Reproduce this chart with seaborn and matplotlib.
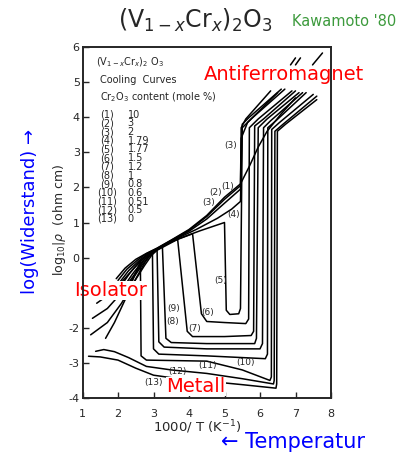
import matplotlib
matplotlib.use("Agg")
import matplotlib.pyplot as plt
import seaborn as sns
import pandas as pd

# ---------------- data ----------------
c1_x = [1.95, 2.2, 2.5, 2.8, 3.1, 3.5, 4.0, 4.5, 5.0, 5.45, 5.7, 5.95, 6.2, 6.6, 7.0]
c1_y = [-0.6, -0.3, -0.05, 0.12, 0.27, 0.5, 0.8, 1.2, 1.72, 2.1, 2.6, 3.15, 3.6, 4.1, 4.55]
c2_x = [2.0, 2.25, 2.55, 2.8, 3.1, 3.5, 4.0, 4.5, 5.0, 5.45, 5.47, 5.6, 6.3]
c2_y = [-0.65, -0.33, -0.07, 0.11, 0.26, 0.49, 0.78, 1.17, 1.66, 2.05, 3.7, 3.95, 4.75]
c3_x = [2.05, 2.3, 2.6, 2.85, 3.1, 3.5, 4.0, 4.5, 5.0, 5.45, 5.47, 5.65, 6.5]
c3_y = [-0.7, -0.37, -0.08, 0.11, 0.25, 0.48, 0.75, 1.1, 1.55, 1.95, 3.4, 3.85, 4.7]
c4_x = [2.1, 2.35, 2.62, 2.87, 3.1, 3.5, 4.2, 4.8, 5.2, 5.45, 5.5, 5.7, 6.6]
c4_y = [-0.78, -0.42, -0.1, 0.1, 0.24, 0.47, 0.8, 1.12, 1.38, 1.6, 3.8, 4.0, 4.8]
c5_x = [2.15, 2.4, 2.67, 2.9, 3.1, 3.5, 4.3, 5.0, 5.05, 5.15, 5.4, 5.45, 5.5, 5.75, 6.7]
c5_y = [-0.85, -0.48, -0.13, 0.09, 0.23, 0.46, 0.76, 1.0, -1.5, -1.62, -1.6, -1.45, 3.7, 3.95, 4.8]
c6_x = [2.2, 2.45, 2.7, 2.92, 3.1, 3.5, 4.1, 4.35, 4.5, 5.0, 5.6, 5.68, 5.7, 5.95, 6.9]
c6_y = [-0.92, -0.55, -0.18, 0.08, 0.22, 0.45, 0.68, -1.6, -1.82, -1.85, -1.88, -1.75, 3.7, 3.95, 4.75]
c7_x = [2.25, 2.5, 2.75, 2.95, 3.1, 3.68, 3.95, 4.1, 5.0, 5.75, 5.82, 5.85, 6.1, 7.0]
c7_y = [-1.0, -0.62, -0.22, 0.07, 0.21, 0.52, -2.1, -2.25, -2.25, -2.22, -2.1, 3.75, 3.95, 4.75]
c8_x = [1.4, 1.75, 2.1, 2.45, 2.8, 3.25, 3.35, 3.5, 4.5, 5.85, 5.9, 5.95, 6.2, 7.1]
c8_y = [-1.3, -1.05, -0.7, -0.3, 0.05, 0.33, -2.3, -2.42, -2.45, -2.45, -2.3, 3.7, 3.95, 4.7]
c9_x = [1.28, 1.7, 2.1, 2.45, 2.75, 3.1, 3.15, 3.3, 4.5, 6.0, 6.07, 6.1, 6.3, 7.2]
c9_y = [-1.73, -1.45, -1.0, -0.5, -0.05, 0.25, -2.4, -2.55, -2.6, -2.6, -2.45, 3.7, 3.9, 4.7]
c10_x = [1.23, 1.7, 2.1, 2.45, 2.75, 2.97, 3.0, 3.15, 4.5, 6.15, 6.21, 6.22, 6.45, 7.3]
c10_y = [-2.2, -1.85, -1.3, -0.7, -0.15, 0.17, -2.6, -2.75, -2.8, -2.88, -2.75, 3.7, 3.9, 4.7]
c11_x = [1.65, 1.9, 2.2, 2.45, 2.63, 2.65, 2.8, 4.5, 5.5, 6.28, 6.32, 6.33, 6.55, 7.5]
c11_y = [-2.3, -1.85, -1.2, -0.55, -0.12, -2.8, -2.92, -2.95, -3.2, -3.5, -3.4, 3.65, 3.85, 4.65]
c12_x = [1.37, 1.6, 1.9, 2.3, 2.8, 3.5, 4.5, 5.5, 6.38, 6.4, 6.42, 6.65, 7.6]
c12_y = [-2.67, -2.62, -2.68, -2.85, -3.1, -3.2, -3.3, -3.45, -3.6, -3.5, 3.6, 3.8, 4.6]
c13_x = [1.17, 1.5, 2.0, 2.5, 3.0, 3.7, 4.5, 5.5, 6.45, 6.47, 6.49, 6.72, 7.6]
c13_y = [-2.81, -2.83, -2.92, -3.15, -3.35, -3.45, -3.52, -3.62, -3.72, -3.6, 3.6, 3.8, 4.5]
tail_x = [[6.86, 7.0], [7.0, 7.14], [7.48, 7.76]]
tail_y = [[5.49, 5.69], [5.49, 5.69], [5.49, 5.83]]

legend_ids = ["(1)", "(2)", "(3)", "(4)", "(5)", "(6)", "(7)", "(8)", "(9)", "(10)", "(11)", "(12)", "(13)"]
legend_vals = ["10", "3", "2", "1.79", "1.77", "1.5", "1.2", "1", "0.8", "0.6", "0.51", "0.5", "0"]

curve_lbl = ["(1)", "(2)", "(3)", "(3)", "(4)", "(5)", "(6)", "(7)", "(8)", "(9)", "(10)", "(11)", "(12)", "(13)"]
curve_lbl_x = [5.08, 4.75, 4.55, 5.17, 5.25, 4.89, 4.52, 4.15, 3.54, 3.56, 5.59, 4.52, 3.68, 3.0]
curve_lbl_y = [2.03, 1.86, 1.58, 3.2, 1.24, -0.66, -1.56, -2.02, -1.82, -1.45, -2.98, -3.07, -3.24, -3.57]

x_ticks = [1, 2, 3, 4, 5, 6, 7, 8]
y_ticks = [-4, -3, -2, -1, 0, 1, 2, 3, 4, 5, 6]
y_tick_labels = ["-4", "-3", "-2", "", "0", "1", "2", "3", "4", "5", "6"]  # "-1" is hidden under "Isolator"

# ---------------- build long table ----------------
xs = [c1_x, c2_x, c3_x, c4_x, c5_x, c6_x, c7_x, c8_x, c9_x, c10_x, c11_x, c12_x, c13_x] + tail_x
ys = [c1_y, c2_y, c3_y, c4_y, c5_y, c6_y, c7_y, c8_y, c9_y, c10_y, c11_y, c12_y, c13_y] + tail_y
rows = []
for k, (cx, cy) in enumerate(zip(xs, ys)):
    for i, (a, b) in enumerate(zip(cx, cy)):
        rows.append({"curve": k, "order": i, "x": a, "y": b})
df = pd.DataFrame(rows)

# ---------------- figure ----------------
sns.set_style("ticks")
plt.rcParams["font.family"] = ["DejaVu Sans"]
plt.rcParams["axes.unicode_minus"] = False

W, H = 420, 454
fig = plt.figure(figsize=(W / 100, H / 100), dpi=100)
ax = fig.add_axes([82.5 / W, 1 - 398 / H, (331 - 82.5) / W, (398 - 47) / H])

sns.lineplot(data=df, x="x", y="y", units="curve", estimator=None, sort=False,
             color="black", linewidth=1.1, ax=ax, legend=False)

ax.set_xlim(1, 8)
ax.set_ylim(-4, 6)
ax.set_xticks(x_ticks)
ax.set_yticks(y_ticks)
ax.set_xticklabels([str(v) for v in x_ticks], fontsize=8)
ax.set_yticklabels(y_tick_labels, fontsize=8)
ax.tick_params(axis="x", direction="in", length=4, width=1, pad=8)
ax.tick_params(axis="y", direction="in", length=4, width=1, pad=2)
for s in ax.spines.values():
    s.set_linewidth(1.4)
ax.set_xlabel("")
ax.set_ylabel("")

# inset texts
ax.text(1.37, 5.58, r"(V$_{1-x}$Cr$_x$)$_2$ O$_3$", fontsize=7, va="center", ha="left")
ax.text(1.5, 5.07, "Cooling  Curves", fontsize=7, va="center", ha="left")
ax.text(1.5, 4.58, r"Cr$_2$O$_3$ content (mole %)", fontsize=7, va="center", ha="left")
for i, (a, b) in enumerate(zip(legend_ids, legend_vals)):
    yy = 4.07 - i * (4.07 - 1.10) / 12
    ax.text(1.70, yy, a, fontsize=7, va="center", ha="center")
    ax.text(2.27, yy, b, fontsize=7, va="center", ha="left")
for t, a, b in zip(curve_lbl, curve_lbl_x, curve_lbl_y):
    ax.text(a, b, t, fontsize=6.5, va="center", ha="center")

# axis labels
fig.text(197 / W, 1 - 427 / H, r"1000/ T (K$^{-1}$)", fontsize=9.5, ha="center", va="center")
fig.text(60 / W, 1 - 220 / H, r"log$_{10}$|$\rho$  (ohm cm)", fontsize=9, ha="center", va="center",
         rotation=90)

# title and annotations
box = dict(facecolor="white", edgecolor="none", pad=0.0)
fig.text(195 / W, 1 - 20 / H, r"(V$_{1-x}$Cr$_x$)$_2$O$_3$", fontsize=17, ha="center", va="center")
fig.text(292 / W, 1 - 22 / H, "Kawamoto '80", fontsize=10.5, color="#3c9a3c", ha="left", va="center")
for txt, px, py in [("Antiferromagnet", 284, 75), ("Isolator", 111, 290), ("Metall", 196, 386)]:
    ax.text(px / W, 1 - py / H, txt, fontsize=14, color="red", ha="center", va="center",
            transform=fig.transFigure, bbox=box, zorder=2.3, clip_on=False)
fig.text(30 / W, 1 - 211 / H, "log(Widerstand) \u2192", fontsize=13, color="blue", ha="center",
         va="center", rotation=90)
fig.text(293 / W, 1 - 442 / H, "\u2190 Temperatur", fontsize=15, color="blue", ha="center", va="center")

fig.savefig("out.png", dpi=100)
